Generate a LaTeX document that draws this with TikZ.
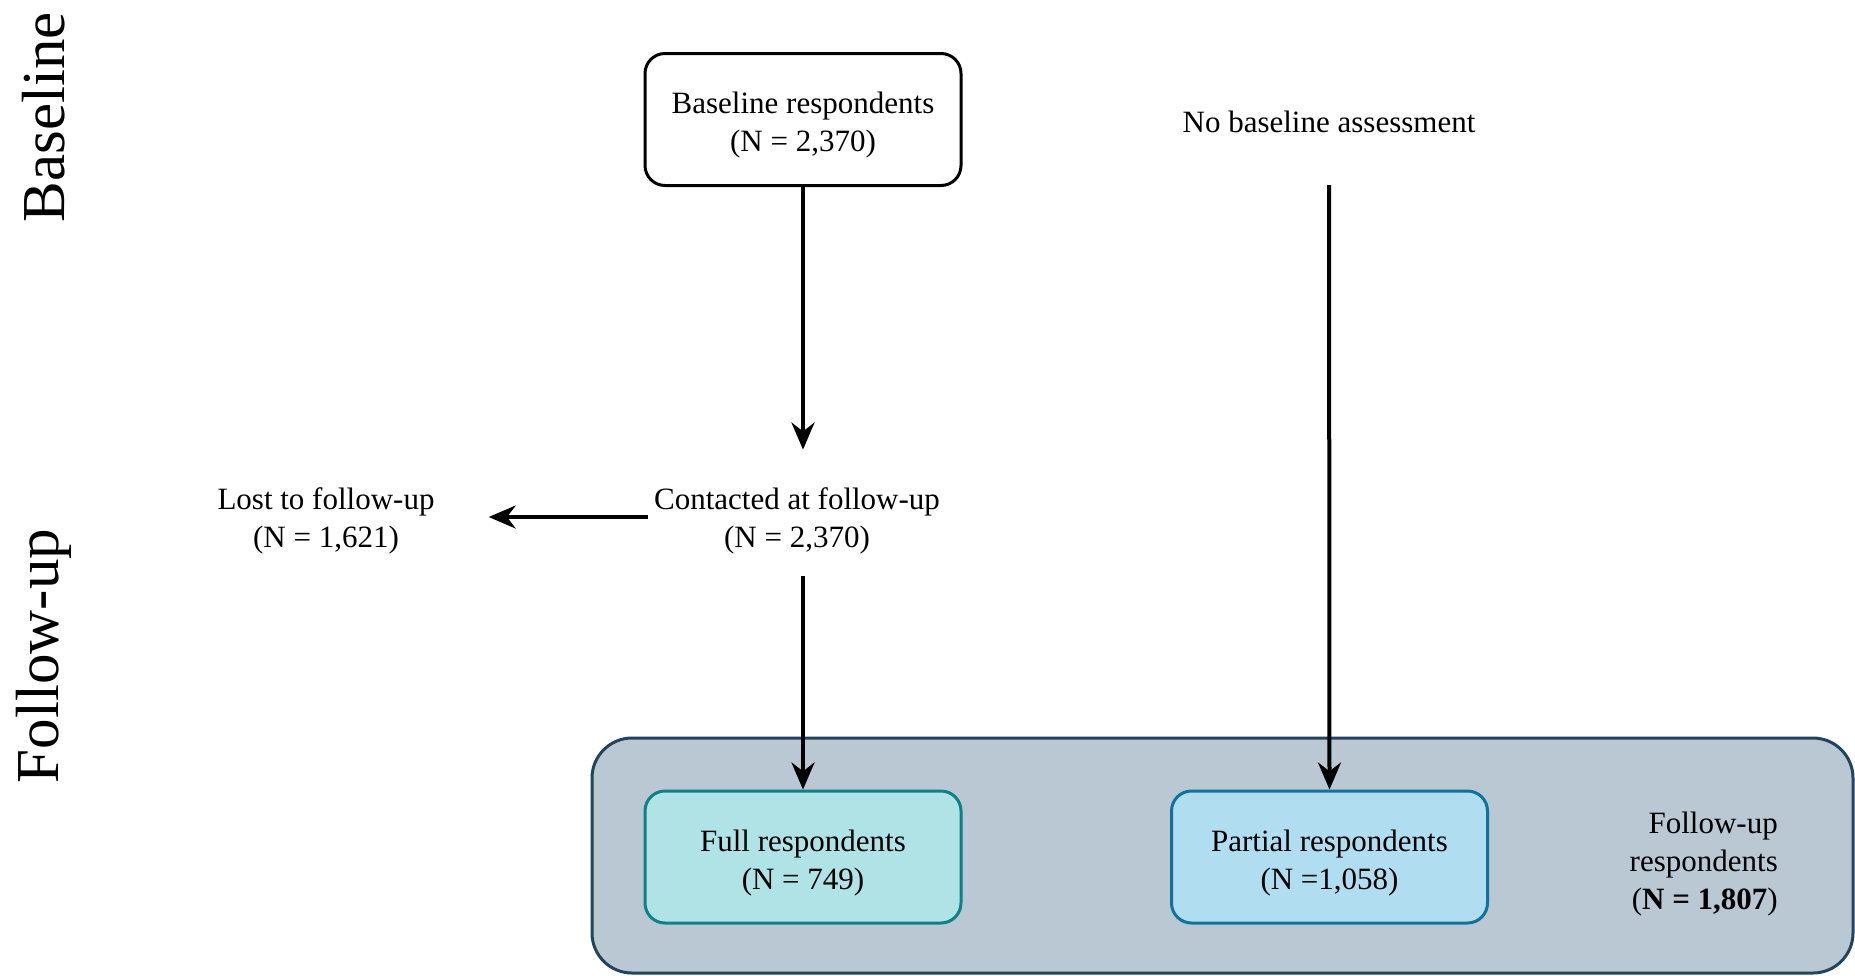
\documentclass[tikz,border=0pt]{standalone}
\usepackage{fontspec}
\setmainfont{Liberation Serif}
\usetikzlibrary{arrows.meta}
\definecolor{grpfill}{HTML}{BAC8D3}
\definecolor{grpdraw}{HTML}{23445D}
\definecolor{fullfill}{HTML}{B0E3E6}
\definecolor{fulldraw}{HTML}{0E8088}
\definecolor{partfill}{HTML}{B1DDF0}
\definecolor{partdraw}{HTML}{10739E}
\tikzset{
  txt/.style={font=\fontsize{31}{38}\selectfont, align=center, inner sep=0pt},
  boxnode/.style={rectangle, rounded corners=20pt, line width=3pt, minimum width=316pt, minimum height=132pt},
  arr/.style={line width=4pt, -{Stealth[length=27pt, width=23pt]}},
  side/.style={font=\fontsize{61}{70}\selectfont, rotate=90, inner sep=0pt}
}
\begin{document}
\begin{tikzpicture}[x=1pt,y=-1pt]
\useasboundingbox (0,0) rectangle (1855,975);
% group box
\draw[line width=3pt, draw=grpdraw, fill=grpfill, rounded corners=40pt] (592,738) rectangle (1853,973);
% side labels
\node[side] (lblbase) at (44,117) {Baseline};
\node[side] (lblfu) at (44,656) {Follow-up};
% boxes
\node[boxnode, draw=black, fill=white] (base) at (803,119.5) {};
\node[boxnode, draw=fulldraw, fill=fullfill] (full) at (803,857) {};
\node[boxnode, draw=partdraw, fill=partfill] (part) at (1329.5,857) {};
% texts
\node[txt] (basetxt) at (803,125) {Baseline respondents\\(N = 2,370)};
\node[txt] (fulltxt) at (803,863) {Full respondents\\(N = 749)};
\node[txt] (parttxt) at (1329.5,863) {Partial respondents\\(N =1,058)};
\node[txt] (nobase) at (1329,122) {No baseline assessment};
\node[txt] (contact) at (797,521) {Contacted at follow-up\\(N = 2,370)};
\node[txt] (lost) at (326,521) {Lost to follow-up\\(N = 1,621)};
\node[txt, align=right, anchor=east] (furesp) at (1778,864) {Follow-up\\respondents\\(\textbf{N = 1,807})};
% arrows
\draw[arr, shorten >=38pt] (base.south) -- (contact.north -| base.south);
\draw[arr, shorten <=6pt, shorten >=54pt] ([yshift=4pt]contact.west) -- ([yshift=4pt]contact.west -| lost.east);
\draw[arr, shorten <=22pt] (contact.south -| full.north) -- (full.north);
\draw[arr, shorten <=52pt] (nobase.south) -- (part.north);
\end{tikzpicture}
\end{document}
